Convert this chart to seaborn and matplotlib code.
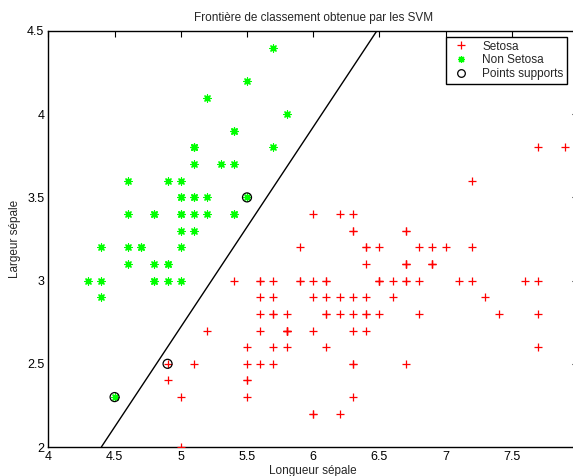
import matplotlib
matplotlib.use("Agg")
import matplotlib.pyplot as plt
import seaborn as sns
import pandas as pd
from matplotlib.lines import Line2D

# "Setosa"-labelled class (red +): other iris (sepal length, sepal width)
red_x = [7.0, 6.4, 6.9, 5.5, 6.5, 5.7, 6.3, 4.9, 6.6, 5.2, 5.0, 5.9, 6.0, 6.1, 5.6, 6.7, 5.6, 5.8, 6.2, 5.6,
         5.9, 6.1, 6.3, 6.1, 6.4, 6.6, 6.8, 6.7, 6.0, 5.7, 5.5, 5.5, 5.8, 6.0, 5.4, 6.0, 6.7, 6.3, 5.6, 5.5,
         5.5, 6.1, 5.8, 5.0, 5.6, 5.7, 5.7, 6.2, 5.1, 5.7,
         6.3, 5.8, 7.1, 6.3, 6.5, 7.6, 4.9, 7.3, 6.7, 7.2, 6.5, 6.4, 6.8, 5.7, 5.8, 6.4, 6.5, 7.7, 7.7, 6.0,
         6.9, 5.6, 7.7, 6.3, 6.7, 7.2, 6.2, 6.1, 6.4, 7.2, 7.4, 7.9, 6.4, 6.3, 6.1, 7.7, 6.3, 6.4, 6.0, 6.9,
         6.7, 6.9, 5.8, 6.8, 6.7, 6.7, 6.3, 6.5, 6.2, 5.9]
red_y = [3.2, 3.2, 3.1, 2.3, 2.8, 2.8, 3.3, 2.4, 2.9, 2.7, 2.0, 3.0, 2.2, 2.9, 2.9, 3.1, 3.0, 2.7, 2.2, 2.5,
         3.2, 2.8, 2.5, 2.8, 2.9, 3.0, 2.8, 3.0, 2.9, 2.6, 2.4, 2.4, 2.7, 2.7, 3.0, 3.4, 3.1, 2.3, 3.0, 2.5,
         2.6, 3.0, 2.6, 2.3, 2.7, 3.0, 2.9, 2.9, 2.5, 2.8,
         3.3, 2.7, 3.0, 2.9, 3.0, 3.0, 2.5, 2.9, 2.5, 3.6, 3.2, 2.7, 3.0, 2.5, 2.8, 3.2, 3.0, 3.8, 2.6, 2.2,
         3.2, 2.8, 2.8, 2.7, 3.3, 3.2, 2.8, 3.0, 2.8, 3.0, 2.8, 3.8, 2.8, 2.8, 2.6, 3.0, 3.4, 3.1, 3.0, 3.1,
         3.1, 3.1, 2.7, 3.2, 3.3, 3.0, 2.5, 3.0, 3.4, 3.0]

# "Non Setosa"-labelled class (green *)
green_x = [5.1, 4.9, 4.7, 4.6, 5.0, 5.4, 4.6, 5.0, 4.4, 4.9, 5.4, 4.8, 4.8, 4.3, 5.8, 5.7, 5.4, 5.1, 5.7, 5.1,
           5.4, 5.1, 4.6, 5.1, 4.8, 5.0, 5.0, 5.2, 5.2, 4.7, 4.8, 5.4, 5.2, 5.5, 4.9, 5.0, 5.5, 4.9, 4.4, 5.1,
           5.0, 4.5, 4.4, 5.0, 5.1, 4.8, 5.1, 4.6, 5.3, 5.0]
green_y = [3.5, 3.0, 3.2, 3.1, 3.6, 3.9, 3.4, 3.4, 2.9, 3.1, 3.7, 3.4, 3.0, 3.0, 4.0, 4.4, 3.9, 3.5, 3.8, 3.8,
           3.4, 3.7, 3.6, 3.3, 3.4, 3.0, 3.4, 3.5, 3.4, 3.2, 3.1, 3.4, 4.1, 4.2, 3.1, 3.2, 3.5, 3.6, 3.0, 3.4,
           3.5, 2.3, 3.2, 3.5, 3.8, 3.0, 3.8, 3.2, 3.7, 3.3]

# Support vectors
sv_x = [4.5, 4.9, 5.5]
sv_y = [2.3, 2.5, 3.5]

# Decision boundary (end points)
boundary_x = [4.40, 6.48]
boundary_y = [2.0, 4.5]

title = "Frontière de classement obtenue par les SVM"
xlabel = "Longueur sépale"
ylabel = "Largeur sépale"
xticks = [4, 4.5, 5, 5.5, 6, 6.5, 7, 7.5]
xticklabels = ["4", "4.5", "5", "5.5", "6", "6.5", "7", "7.5"]
yticks = [2, 2.5, 3, 3.5, 4, 4.5]
yticklabels = ["2", "2.5", "3", "3.5", "4", "4.5"]
legend_labels = ["Setosa", "Non Setosa", "Points supports"]

sns.set_style("white")
plt.rcParams['font.family'] = ['Liberation Sans', 'DejaVu Sans']

fig = plt.figure(figsize=(5.73, 4.76), dpi=100)
W, H = 573, 476
left_px, right_px, top_px, bot_px = 48.4, 48.4 + 4 * 132.4, 31, 447
ax = fig.add_axes([left_px / W, 1 - bot_px / H, (right_px - left_px) / W, (bot_px - top_px) / H])

red_c = (1, 0, 0)
green_c = (0, 1, 0)
star = (8, 2, 0)

df_r = pd.DataFrame({"x": red_x, "y": red_y})
df_g = pd.DataFrame({"x": green_x, "y": green_y})
df_sv = pd.DataFrame({"x": sv_x, "y": sv_y})
df_b = pd.DataFrame({"x": boundary_x, "y": boundary_y})

sns.scatterplot(data=df_r, x="x", y="y", ax=ax, marker="+", color=red_c, s=32, linewidth=0.9, zorder=3)
sns.scatterplot(data=df_g, x="x", y="y", ax=ax, marker=star, color=green_c, edgecolor=green_c, s=26,
                linewidth=0.9, zorder=3)
sns.scatterplot(data=df_sv, x="x", y="y", ax=ax, marker="o", facecolor="none", edgecolor="black",
                s=42, linewidth=0.9, zorder=4)
sns.lineplot(data=df_b, x="x", y="y", ax=ax, sort=False, estimator=None, color="black", linewidth=1.0, zorder=2)

ax.set_xlim(4, 8)
ax.set_ylim(2, 4.5)
ax.set_xticks(xticks)
ax.set_xticklabels(xticklabels)
ax.set_yticks(yticks)
ax.set_yticklabels(yticklabels)
ax.tick_params(direction="in", length=4, width=0.8, top=True, right=True, labelsize=9, colors="black",
               pad=3)
for sp in ax.spines.values():
    sp.set_visible(True)
    sp.set_color("black")
    sp.set_linewidth(1.0)

ax.set_title(title, fontsize=8.5, pad=7)
ax.set_xlabel(xlabel, fontsize=8.5, labelpad=1)
ax.set_ylabel(ylabel, fontsize=8.5, labelpad=4)

handles = [
    Line2D([], [], linestyle="none", marker="+", color=red_c, markersize=6, markeredgewidth=0.9),
    Line2D([], [], linestyle="none", marker=star, color=green_c, markersize=5, markeredgewidth=0.9),
    Line2D([], [], linestyle="none", marker="o", markerfacecolor="none", markeredgecolor="black",
           markersize=5.5, markeredgewidth=0.9),
]
leg = ax.legend(handles, legend_labels, loc="upper right", bbox_to_anchor=(567 / W, 1 - 37 / H),
                bbox_transform=fig.transFigure, fontsize=8.5, frameon=True, fancybox=False,
                framealpha=1, edgecolor="black", borderpad=0.3, labelspacing=0.15, handletextpad=0.8,
                handlelength=2.0, borderaxespad=0)
leg.get_frame().set_linewidth(1.0)

fig.savefig("out.png", dpi=100)
